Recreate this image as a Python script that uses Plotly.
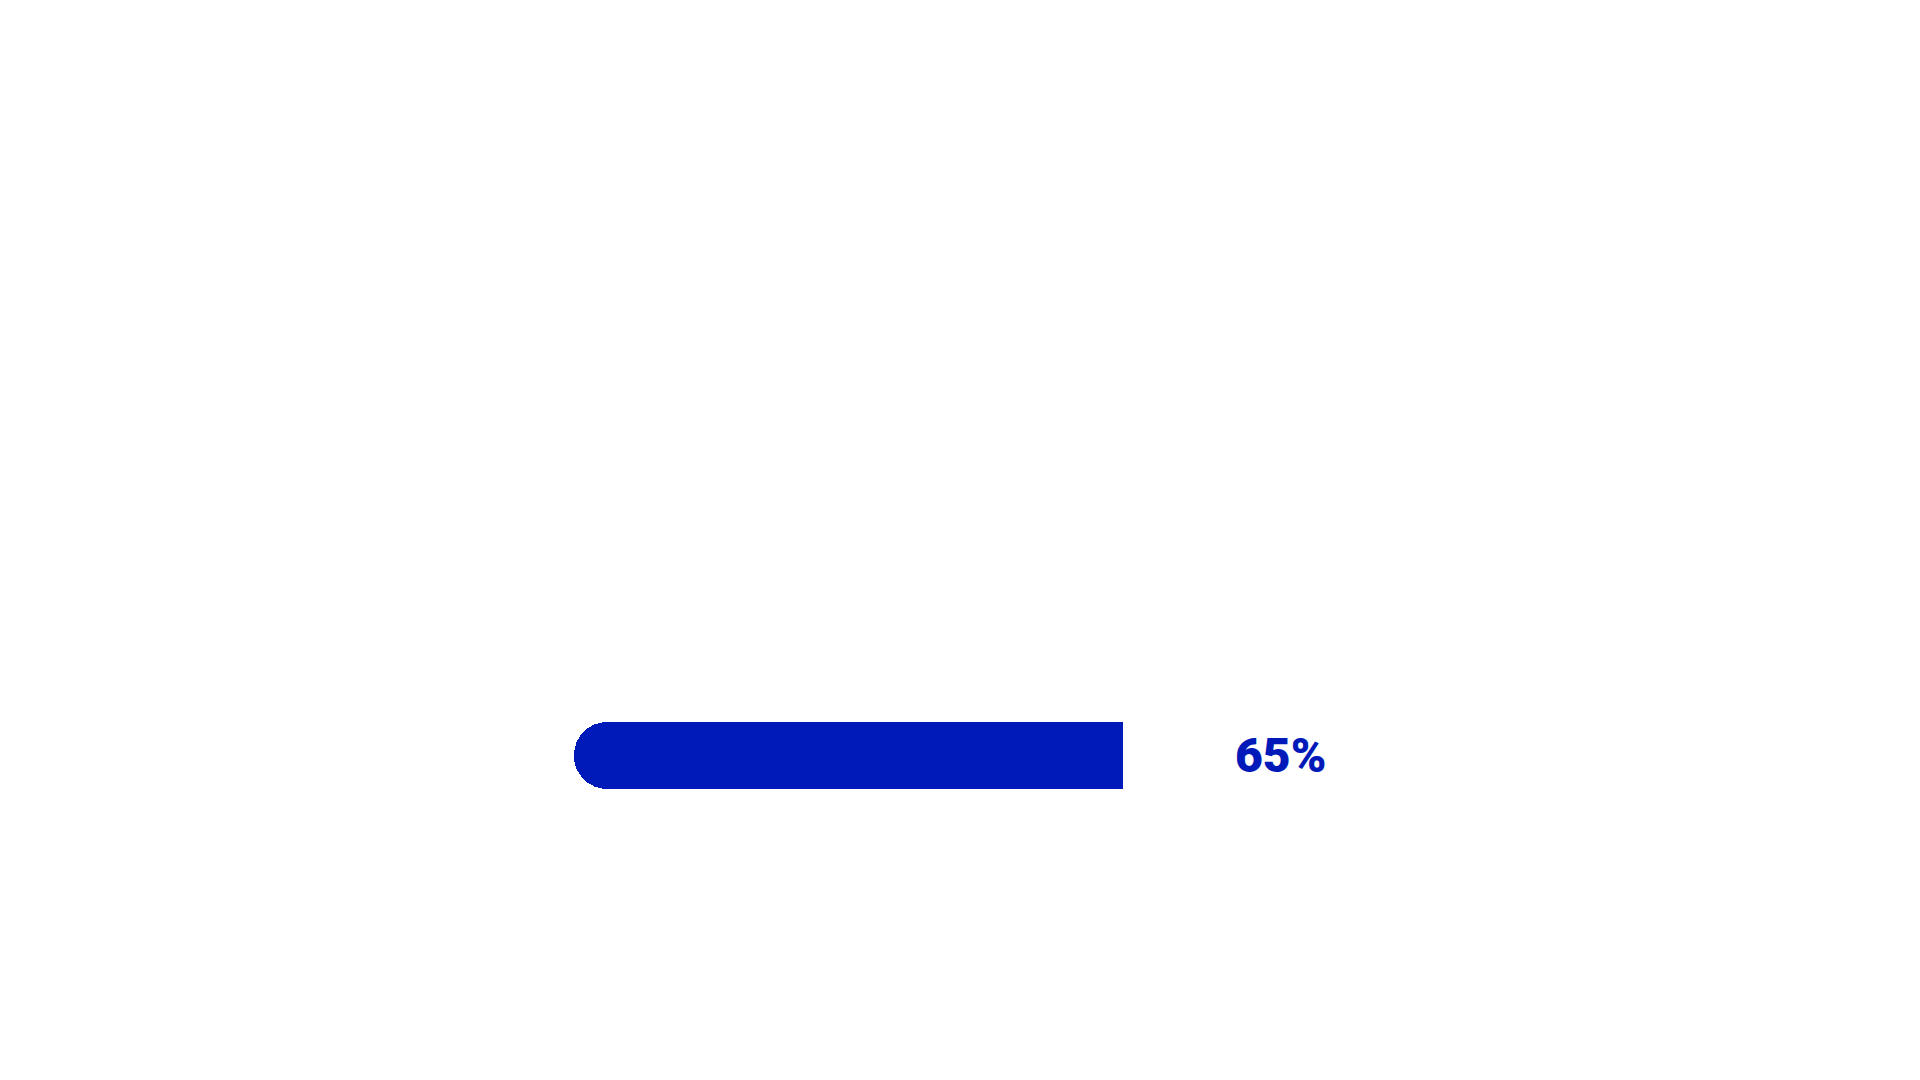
import plotly.graph_objects as go

categories = ["Progress"]
values = [65]
labels = ["65%"]

COLOR = "#001AB9"

fig = go.Figure()
# rounded full-length bar (rounding appears at both ends)
fig.add_trace(go.Bar(
    y=[0],
    x=[-values[0]],
    base=[values[0]],
    orientation="h",
    marker=dict(color=COLOR, cornerradius="50%", line=dict(width=0)),
    width=1,
    hoverinfo="skip",
    name=categories[0],
))
# square-ended cover for the right half, so only the left end stays rounded
fig.add_trace(go.Bar(
    y=[0],
    x=[values[0] / 2],
    base=[values[0] / 2],
    orientation="h",
    marker=dict(color=COLOR, line=dict(width=0)),
    width=1,
    hoverinfo="skip",
    name=categories[0],
))

fig.add_annotation(
    x=values[0], y=0, xref="x", yref="y",
    text=labels[0], showarrow=False,
    xanchor="left", yanchor="middle",
    xshift=110, yshift=0,
    font=dict(family="Roboto", size=48, color=COLOR, weight=900),
)

fig.update_layout(
    width=1920, height=1080,
    margin=dict(l=574, r=501.4, t=722, b=291, pad=0),
    paper_bgcolor="white", plot_bgcolor="white",
    showlegend=False, bargap=0, barmode="overlay",
    xaxis=dict(range=[0, 100], visible=False, fixedrange=True),
    yaxis=dict(range=[-0.5, 0.5], visible=False, fixedrange=True),
)

fig.write_html("out.html")
